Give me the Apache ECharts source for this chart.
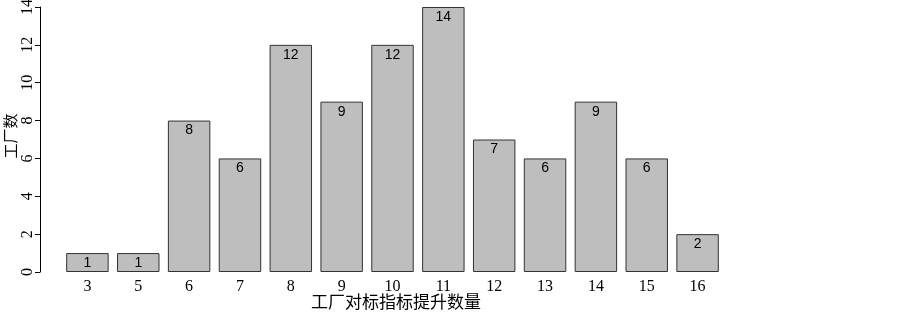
<!DOCTYPE html>
<html>
<head>
<meta charset="utf-8">
<script src="https://cdn.jsdelivr.net/npm/echarts@6/dist/echarts.min.js"></script>
<style>
html,body{margin:0;padding:0;background:#fff;}
#c{width:903px;height:312px;}
</style>
</head>
<body>
<div id="c"></div>
<script>
const categories = ['3','5','6','7','8','9','10','11','12','13','14','15','16'];
const counts = [1,1,8,6,12,9,12,14,7,6,9,6,2];
const yTicks = [0,2,4,6,8,10,12,14];
const xTitle = '工厂对标指标提升数量';
const yTitle = '工厂数';

const serif = '"Liberation Serif","DejaVu Serif","Noto Sans CJK SC",serif';
const chart = echarts.init(document.getElementById('c'));
chart.setOption({
  animation: false,
  backgroundColor: '#fff',
  grid: {left: 62, right: 180, top: 7, bottom: 40, containLabel: false, outerBoundsMode: 'none'},
  xAxis: {
    type: 'category',
    data: categories,
    axisLine: {show: false},
    axisTick: {show: false},
    axisLabel: {color: '#000', fontFamily: serif, fontSize: 16, margin: 7}
  },
  yAxis: {
    type: 'value',
    min: yTicks[0],
    max: yTicks[yTicks.length - 1],
    interval: 2,
    offset: 22,
    axisLine: {show: true, lineStyle: {color: '#000', width: 1}},
    axisTick: {show: true, length: 5, lineStyle: {color: '#000'}},
    splitLine: {show: false},
    axisLabel: {color: '#000', fontFamily: serif, fontSize: 16, rotate: 90, margin: 4}
  },
  graphic: [
    {
      type: 'text', x: 396, y: 304,
      style: {text: xTitle, fill: '#000', font: '17px ' + serif, align: 'center', verticalAlign: 'middle'}
    },
    {
      type: 'text', x: 12, y: 136, rotation: Math.PI / 2,
      style: {text: yTitle, fill: '#000', font: '15px ' + serif, align: 'center', verticalAlign: 'middle'}
    }
  ],
  series: [{
    type: 'bar',
    data: counts,
    barCategoryGap: '16.5%',
    itemStyle: {color: '#BEBEBE', borderColor: '#333', borderWidth: 1},
    label: {
      show: true,
      position: 'insideTop',
      distance: 3,
      color: '#000',
      fontFamily: '"Liberation Sans",Arial,sans-serif',
      fontSize: 14
    }
  }]
});
</script>
</body>
</html>
